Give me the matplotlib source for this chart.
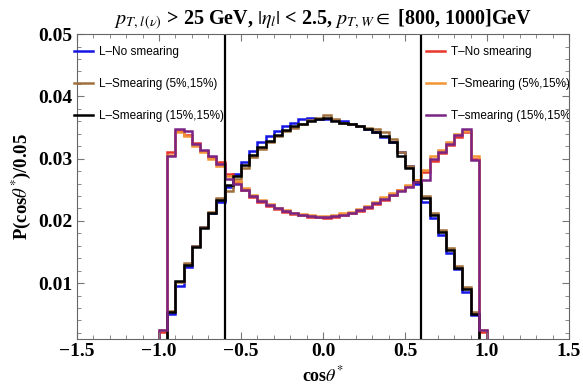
import numpy as np
import matplotlib
matplotlib.use("Agg")
import matplotlib.pyplot as plt
from matplotlib.ticker import MultipleLocator

plt.rcParams['font.family'] = ['Liberation Serif', 'DejaVu Serif']
plt.rcParams['mathtext.fontset'] = 'stix'

# bin edges of cos(theta*), width 0.05
edges = np.linspace(-1.0, 1.0, 41)

# longitudinal W
L_no_smear = [0.0004, 0.0050, 0.0096, 0.0126, 0.0160, 0.0190, 0.0212, 0.0230, 0.0255, 0.0275,
              0.0295, 0.0312, 0.0326, 0.0336, 0.0345, 0.0352, 0.0358, 0.0363, 0.0366, 0.0364,
              0.0364, 0.0362, 0.0360, 0.0356, 0.0352, 0.0348, 0.0342, 0.0334, 0.0326, 0.0310,
              0.0288, 0.0260, 0.0230, 0.0205, 0.0178, 0.0148, 0.0122, 0.0085, 0.0048, 0.0004]
L_smear_5 = [0.0004, 0.0055, 0.0101, 0.0132, 0.0160, 0.0190, 0.0215, 0.0236, 0.0248, 0.0268,
             0.0285, 0.0302, 0.0315, 0.0326, 0.0336, 0.0344, 0.0350, 0.0356, 0.0362, 0.0366,
             0.0370, 0.0364, 0.0358, 0.0355, 0.0353, 0.0350, 0.0348, 0.0342, 0.0332, 0.0310,
             0.0288, 0.0266, 0.0240, 0.0213, 0.0186, 0.0157, 0.0128, 0.0093, 0.0053, 0.0004]
L_smear_15 = [0.0004, 0.0054, 0.0103, 0.0129, 0.0158, 0.0188, 0.0213, 0.0233, 0.0258, 0.0272,
              0.0290, 0.0306, 0.0318, 0.0328, 0.0338, 0.0346, 0.0352, 0.0356, 0.0360, 0.0363,
              0.0366, 0.0361, 0.0358, 0.0355, 0.0352, 0.0347, 0.0342, 0.0336, 0.0326, 0.0305,
              0.0285, 0.0262, 0.0236, 0.0209, 0.0182, 0.0153, 0.0125, 0.0090, 0.0051, 0.0004]

# transverse W
T_no_smear = [0.0022, 0.0310, 0.0345, 0.0338, 0.0325, 0.0312, 0.0303, 0.0295, 0.0276, 0.0262,
              0.0250, 0.0238, 0.0230, 0.0224, 0.0219, 0.0215, 0.0211, 0.0209, 0.0207, 0.0206,
              0.0205, 0.0207, 0.0209, 0.0212, 0.0216, 0.0221, 0.0227, 0.0234, 0.0241, 0.0249,
              0.0256, 0.0264, 0.0278, 0.0296, 0.0309, 0.0322, 0.0334, 0.0342, 0.0300, 0.0022]
T_smear_5 = [0.0024, 0.0306, 0.0342, 0.0336, 0.0320, 0.0310, 0.0300, 0.0288, 0.0272, 0.0264,
             0.0252, 0.0242, 0.0234, 0.0227, 0.0221, 0.0217, 0.0213, 0.0211, 0.0209, 0.0208,
             0.0208, 0.0209, 0.0212, 0.0215, 0.0219, 0.0224, 0.0230, 0.0238, 0.0244, 0.0250,
             0.0257, 0.0265, 0.0282, 0.0305, 0.0314, 0.0327, 0.0340, 0.0345, 0.0305, 0.0024]
T_smear_15 = [0.0025, 0.0305, 0.0348, 0.0344, 0.0323, 0.0314, 0.0305, 0.0292, 0.0268, 0.0260,
              0.0250, 0.0240, 0.0232, 0.0225, 0.0220, 0.0216, 0.0212, 0.0210, 0.0208, 0.0207,
              0.0206, 0.0208, 0.0210, 0.0213, 0.0217, 0.0222, 0.0228, 0.0235, 0.0242, 0.0248,
              0.0255, 0.0262, 0.0266, 0.0300, 0.0311, 0.0324, 0.0338, 0.0348, 0.0297, 0.0025]

cut = 0.6

fig = plt.figure(figsize=(5.83, 3.88), dpi=100)
ax = fig.add_axes([0.132, 0.126, 0.844, 0.786])

lw = 1.8
hL1 = ax.stairs(L_no_smear, edges, color='#1515e6', lw=lw, label='L\u2013No smearing')
hL2 = ax.stairs(L_smear_5, edges, color='#a0703e', lw=lw, label='L\u2013Smearing (5%,15%)')
hT1 = ax.stairs(T_no_smear, edges, color='#e8352b', lw=lw, label='T\u2013No smearing')
hT2 = ax.stairs(T_smear_5, edges, color='#f39535', lw=lw, label='T\u2013Smearing (5%,15%)')
hL3 = ax.stairs(L_smear_15, edges, color='black', lw=lw, label='L\u2013Smearing (15%,15%)')
hT3 = ax.stairs(T_smear_15, edges, color='#7a2585', lw=lw, label='T\u2013smearing (15%,15%)')

ax.axvline(-cut, color='black', lw=1.6)
ax.axvline(cut, color='black', lw=1.6)

ax.set_xlim(-1.5, 1.5)
ax.set_ylim(0.001, 0.05)
ax.xaxis.set_major_locator(MultipleLocator(0.5))
ax.xaxis.set_minor_locator(MultipleLocator(0.1))
ax.yaxis.set_major_locator(MultipleLocator(0.01))
ax.yaxis.set_minor_locator(MultipleLocator(0.002))
ax.xaxis.set_major_formatter(plt.FuncFormatter(lambda v, p: f'{v:.1f}'.replace('-', '\u2212')))
ax.yaxis.set_major_formatter(plt.FuncFormatter(lambda v, p: f'{v:.2f}'))
ax.tick_params(which='both', direction='in', top=True, right=True, color='#777777')
ax.tick_params(which='major', length=5, width=0.8, labelsize=14, pad=3)
ax.tick_params(which='minor', length=3, width=0.6)
for lab in ax.get_xticklabels() + ax.get_yticklabels():
    lab.set_fontweight('bold')
for sp in ax.spines.values():
    sp.set_color('#666666')
    sp.set_linewidth(0.8)

ax.set_xlabel(r'cos$\theta^{*}$', fontsize=13, fontweight='bold', labelpad=4)
ax.set_ylabel(r'P(cos$\theta^{*}$)/0.05', fontsize=13.5, fontweight='bold', labelpad=4)
ax.set_title(r'$p_{T,l\,(\nu)}$ > 25 GeV, $|\eta_l|$ < 2.5, $p_{T,W} \in$ [800, 1000]GeV',
             fontsize=14.5, fontweight='bold', pad=7)

leg_kw = dict(frameon=False, handlelength=1.6, handletextpad=0.45, labelspacing=1.7,
              borderaxespad=0, borderpad=0,
              prop={'family': 'Liberation Sans', 'size': 8.5})
leg1 = ax.legend(handles=[hL1, hL2, hL3], loc='upper left', bbox_to_anchor=(-0.005, 0.962), **leg_kw)
ax.add_artist(leg1)
leg2 = ax.legend(handles=[hT1, hT2, hT3], loc='upper left', bbox_to_anchor=(0.71, 0.962), **leg_kw)
# the reference cuts the long labels at the frame
for t in leg2.get_texts():
    t.set_clip_on(True)
    t.set_clip_box(ax.bbox)

fig.savefig('out.png', dpi=100)
